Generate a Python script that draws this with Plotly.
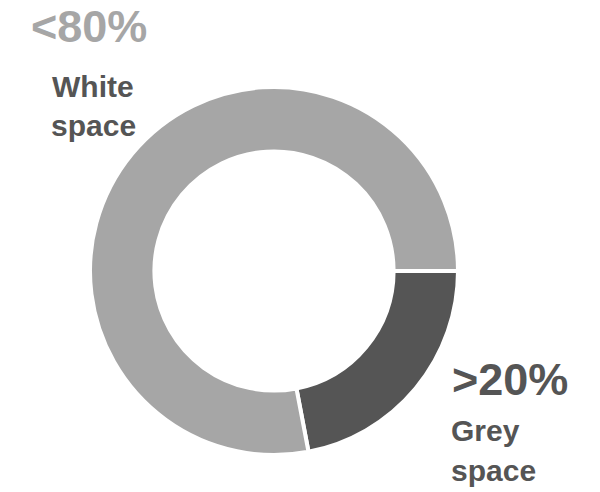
import plotly.graph_objects as go

labels = ["Grey space", "White space"]
values = [22, 78]
colors = ["#555555", "#a6a6a6"]

W, H = 600, 492

fig = go.Figure(go.Pie(
    labels=labels, values=values, sort=False, direction="clockwise",
    rotation=90, hole=0.65, textinfo="none", hoverinfo="label+percent",
    marker=dict(colors=colors, line=dict(color="white", width=4)),
    domain=dict(x=[82 / W, 450 / W], y=[1 - 447 / H, 1 - 79 / H]),
    showlegend=False,
))

FONT = "Liberation Sans, Arial, Helvetica, sans-serif"

def ann(text, x, y, size, color, xanchor="center"):
    fig.add_annotation(text=text, x=x / W, y=1 - y / H, xref="paper", yref="paper",
                       xanchor=xanchor, yanchor="middle", showarrow=False,
                       font=dict(family=FONT, size=size, color=color, weight="bold"))

ann("&lt;80%", 81, 18.4, 45, "#a6a6a6")
ann("White", 85, 78.5, 30, "#555555")
ann("space", 85, 117.8, 30, "#555555")
ann("&gt;20%", 442, 371.7, 45, "#555555", "left")
ann("Grey", 441, 422.8, 30, "#555555", "left")
ann("space", 441, 462.3, 30, "#555555", "left")

fig.update_layout(width=W, height=H, margin=dict(l=0, r=0, t=0, b=0),
                  paper_bgcolor="white", plot_bgcolor="white")
fig.write_html("out.html")
